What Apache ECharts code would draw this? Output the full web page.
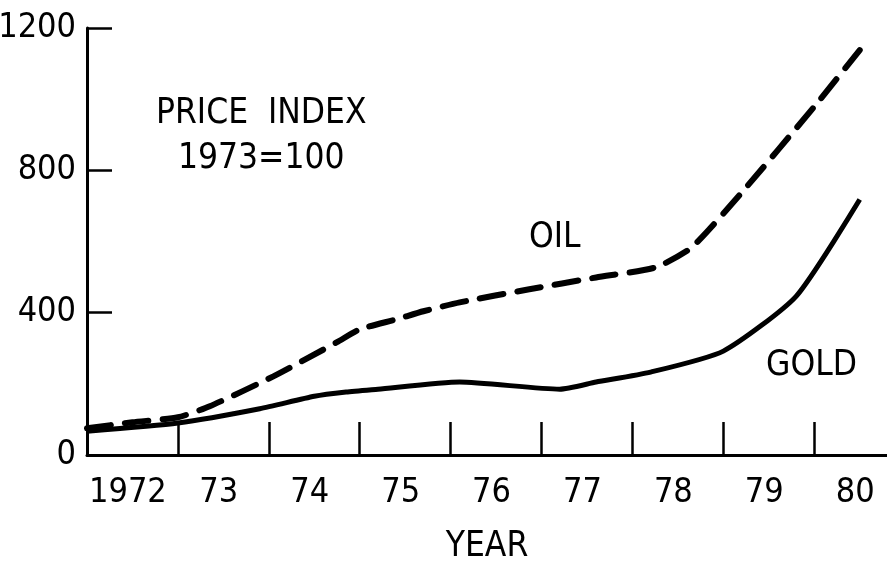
<!DOCTYPE html>
<html>
<head>
<meta charset="utf-8">
<script src="https://cdn.jsdelivr.net/npm/echarts@6/dist/echarts.min.js"></script>
<style>
  html, body { margin: 0; padding: 0; background: #fff; }
  #main { width: 887px; height: 563px; }
</style>
</head>
<body>
<div id="main"></div>
<script>
// year boundaries (ticks) and year labels
const tickYears = [1973, 1974, 1975, 1976, 1977, 1978, 1979, 1980];
const labelYears = [1972, 1973, 1974, 1975, 1976, 1977, 1978, 1979, 1980];
const yTicks = [0, 400, 800, 1200];

// oil price index [year, index]
const oilYears = [1972.0, 1972.5, 1973.0, 1973.35, 1974.05, 1974.75, 1975.0, 1975.4, 1975.7, 1976.1, 1976.85, 1977.6, 1978.25, 1978.65, 1979.2, 1980.0, 1980.5];
const oilValues = [75, 92, 106, 137, 221, 317, 353, 381, 404, 429, 465, 499, 527, 583, 737, 979, 1138];

// gold price index
const goldYears = [1972.0, 1973.0, 1973.9, 1974.5, 1974.85, 1975.2, 1976.1, 1977.2, 1977.6, 1978.2, 1979.0, 1979.8, 1980.5];
const goldValues = [67, 90, 130, 165, 177, 185, 205, 185, 205, 233, 292, 446, 718];

const FONT = '"DejaVu Sans Condensed", "Liberation Sans Narrow", sans-serif';

const chart = echarts.init(document.getElementById('main'));

const pair = (xs, ys) => xs.map((x, i) => [x, ys[i]]);

chart.setOption({
  animation: false,
  backgroundColor: '#fff',
  grid: { left: 87, right: 0, top: 28, bottom: 108, outerBoundsMode: 'none' },
  xAxis: {
    type: 'value',
    min: 1972,
    max: 1980.8,
    name: 'YEAR',
    nameLocation: 'middle',
    nameGap: 74,
    nameTextStyle: { color: '#000', fontFamily: FONT, fontSize: 35 },
    splitLine: { show: false },
    axisLine: { lineStyle: { color: '#000', width: 3 } },
    axisTick: {
      inside: true,
      length: 33,
      customValues: tickYears,
      lineStyle: { color: '#000', width: 2.5 }
    },
    axisLabel: {
      customValues: labelYears.map(y => y + 0.45),
      margin: 21,
      color: '#000',
      fontFamily: FONT,
      fontSize: 34,
      formatter: function (v) {
        const y = Math.floor(v);
        return y === 1972 ? '1972' : String(y % 100);
      }
    }
  },
  yAxis: {
    type: 'value',
    min: 0,
    max: 1200,
    splitLine: { show: false },
    axisLine: { show: true, lineStyle: { color: '#000', width: 3 } },
    axisTick: {
      inside: true,
      length: 25,
      customValues: yTicks.slice(1),
      lineStyle: { color: '#000', width: 2.5 }
    },
    axisLabel: {
      customValues: yTicks,
      margin: 11,
      color: '#000',
      fontFamily: FONT,
      fontSize: 34,
      formatter: function (v) { return String(v); }
    }
  },
  graphic: [
    { type: 'text', left: 156, top: 96, style: { text: 'PRICE  INDEX', fill: '#000', font: '35px ' + FONT } },
    { type: 'text', left: 178, top: 141, style: { text: '1973=100', fill: '#000', font: '35px ' + FONT } },
    { type: 'text', left: 529, top: 220, style: { text: 'OIL', fill: '#000', font: '35px ' + FONT } },
    { type: 'text', left: 766, top: 348, style: { text: 'GOLD', fill: '#000', font: '35px ' + FONT } }
  ],
  series: [
    {
      name: 'OIL',
      type: 'line',
      data: pair(oilYears, oilValues),
      showSymbol: false,
      smooth: 0.2,
      lineStyle: { color: '#000', width: 6, type: [24, 14], cap: 'round' }
    },
    {
      name: 'GOLD',
      type: 'line',
      data: pair(goldYears, goldValues),
      showSymbol: false,
      smooth: 0.2,
      lineStyle: { color: '#000', width: 5 }
    }
  ]
});
</script>
</body>
</html>
